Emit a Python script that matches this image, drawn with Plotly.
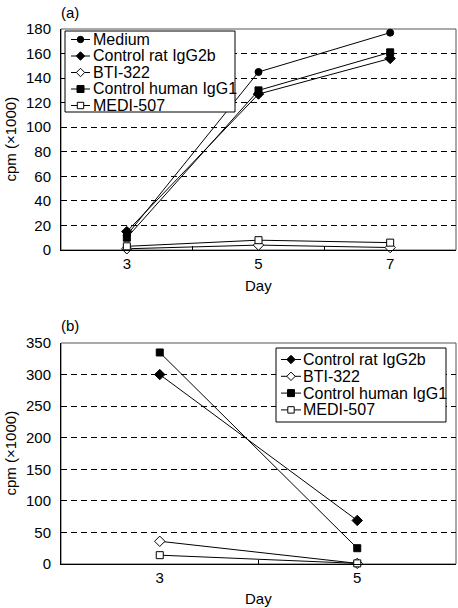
import plotly.graph_objects as go

# ---------- data ----------
days_a = ["3", "5", "7"]
medium_a = [12, 145, 177]
rat_a = [15, 127, 156]
bti_a = [1, 4, 2]
human_a = [10, 130, 161]
medi_a = [3, 8, 6]

days_b = ["3", "5"]
rat_b = [300, 69]
bti_b = [36, 1]
human_b = [335, 25]
medi_b = [14, 1]

yticks_a = list(range(0, 181, 20))
yticks_b = list(range(0, 351, 50))

names_a = ["Medium", "Control rat IgG2b", "BTI-322", "Control human IgG1", "MEDI-507"]
names_b = ["Control rat IgG2b", "BTI-322", "Control human IgG1", "MEDI-507"]

W, H = 458, 608
FONT = "Liberation Sans, Arial, sans-serif"

# symbol, filled?, marker size in plot, half-size in legend (px)
series_style = {
    "Medium": ("circle", True, 7, 3.2),
    "Control rat IgG2b": ("diamond", True, 8, 4.2),
    "BTI-322": ("diamond", False, 8, 4.2),
    "Control human IgG1": ("square", True, 7, 3.5),
    "MEDI-507": ("square", False, 7, 3.2),
}

fig = go.Figure()


def add(name, x, y, xa, ya):
    sym, filled, size, _ = series_style[name]
    fig.add_trace(go.Scatter(
        x=x, y=y, name=name, mode="lines+markers", showlegend=False,
        line=dict(color="black", width=1),
        marker=dict(symbol=sym, size=size, color="black" if filled else "white",
                    line=dict(color="black", width=1)),
        xaxis=xa, yaxis=ya, cliponaxis=False,
    ))


for nm, vals in zip(names_a, [medium_a, rat_a, bti_a, human_a, medi_a]):
    add(nm, days_a, vals, "x", "y")
for nm, vals in zip(names_b, [rat_b, bti_b, human_b, medi_b]):
    add(nm, days_b, vals, "x2", "y2")


def px_x(p):
    return p / W


def px_y(p):
    return 1 - p / H


xdom = [px_x(61), px_x(456)]
dom_a = [px_y(250), px_y(29)]
dom_b = [px_y(564), px_y(343)]

common_y = dict(showgrid=True, gridcolor="black", griddash="6px,4px", gridwidth=1,
                zeroline=False, showline=True, linecolor="black", linewidth=1,
                ticks="inside", ticklen=4, tickcolor="black",
                tickfont=dict(size=15, color="black", family=FONT),
                ticklabelstandoff=6, automargin=False)
common_x = dict(type="category", showgrid=False, zeroline=False, showline=True,
                linecolor="black", linewidth=1, ticks="inside", ticklen=4,
                tickson="boundaries", tickcolor="black", automargin=False,
                tickfont=dict(size=15, color="black", family=FONT))

fig.update_layout(
    template="none",
    width=W, height=H,
    margin=dict(l=0, r=0, t=0, b=0, pad=0, autoexpand=False),
    paper_bgcolor="white", plot_bgcolor="white",
    font=dict(family=FONT, color="black", size=15),
    showlegend=False,
    xaxis=dict(domain=xdom, anchor="y", range=[-0.5, 2.5], **common_x),
    yaxis=dict(domain=dom_a, anchor="x", range=[0, 180], tickvals=yticks_a, **common_y),
    xaxis2=dict(domain=xdom, anchor="y2", range=[-0.5, 1.5], **common_x),
    yaxis2=dict(domain=dom_b, anchor="x2", range=[0, 350], tickvals=yticks_b, **common_y),
)

# frame around plot areas
for dom in (dom_a, dom_b):
    fig.add_shape(type="rect", xref="paper", yref="paper",
                  x0=xdom[0], x1=xdom[1], y0=dom[0], y1=dom[1],
                  line=dict(color="#555555", width=1), layer="below")


# ---------- legends (drawn as layout decorations) ----------
def draw_legend(names, box, row0, step, sym_x0, sym_x1, text_x):
    bx0, by0, bx1, by1 = box
    fig.add_shape(type="rect", xref="paper", yref="paper",
                  x0=px_x(bx0), x1=px_x(bx1), y0=px_y(by1), y1=px_y(by0),
                  line=dict(color="black", width=1), fillcolor="white", layer="above")
    for i, nm in enumerate(names):
        cy = row0 + i * step
        cx = (sym_x0 + sym_x1) / 2
        sym, filled, _, r = series_style[nm]
        fig.add_shape(type="line", xref="paper", yref="paper",
                      x0=px_x(sym_x0), x1=px_x(sym_x1), y0=px_y(cy), y1=px_y(cy),
                      line=dict(color="black", width=1), layer="above")
        fill = "black" if filled else "white"
        if sym == "circle":
            fig.add_shape(type="circle", xref="paper", yref="paper",
                          x0=px_x(cx - r), x1=px_x(cx + r), y0=px_y(cy + r), y1=px_y(cy - r),
                          line=dict(color="black", width=1), fillcolor=fill, layer="above")
        elif sym == "square":
            fig.add_shape(type="rect", xref="paper", yref="paper",
                          x0=px_x(cx - r), x1=px_x(cx + r), y0=px_y(cy + r), y1=px_y(cy - r),
                          line=dict(color="black", width=1), fillcolor=fill, layer="above")
        else:
            path = (f"M {px_x(cx)},{px_y(cy - r)} L {px_x(cx + r)},{px_y(cy)} "
                    f"L {px_x(cx)},{px_y(cy + r)} L {px_x(cx - r)},{px_y(cy)} Z")
            fig.add_shape(type="path", xref="paper", yref="paper", path=path,
                          line=dict(color="black", width=1), fillcolor=fill, layer="above")
        fig.add_annotation(xref="paper", yref="paper", showarrow=False,
                           x=px_x(text_x), y=px_y(cy), xanchor="left", yanchor="middle",
                           text=nm, font=dict(size=16, family=FONT, color="black"))


draw_legend(names_a, (65, 31, 235, 112), 39.5, 16.5, 71, 90, 91)
draw_legend(names_b, (276, 348, 446, 422), 359.5, 16.8, 281, 301, 301)

ann = [
    dict(text="(a)", x=px_x(59), y=px_y(12), xanchor="left", yanchor="middle"),
    dict(text="(b)", x=px_x(59), y=px_y(325), xanchor="left", yanchor="middle"),
    dict(text="Day", x=px_x(258), y=px_y(285), xanchor="center", yanchor="middle"),
    dict(text="Day", x=px_x(258), y=px_y(598), xanchor="center", yanchor="middle"),
    dict(text="cpm (×1000)", x=px_x(10), y=(dom_a[0] + dom_a[1]) / 2, xanchor="center",
         yanchor="middle", textangle=-90),
    dict(text="cpm (×1000)", x=px_x(10), y=(dom_b[0] + dom_b[1]) / 2, xanchor="center",
         yanchor="middle", textangle=-90),
]
for a in ann:
    fig.add_annotation(xref="paper", yref="paper", showarrow=False,
                       font=dict(size=15, family=FONT, color="black"), **a)

fig.write_html("out.html", config={"displayModeBar": False},
               post_script="document.body.style.margin='0';")
